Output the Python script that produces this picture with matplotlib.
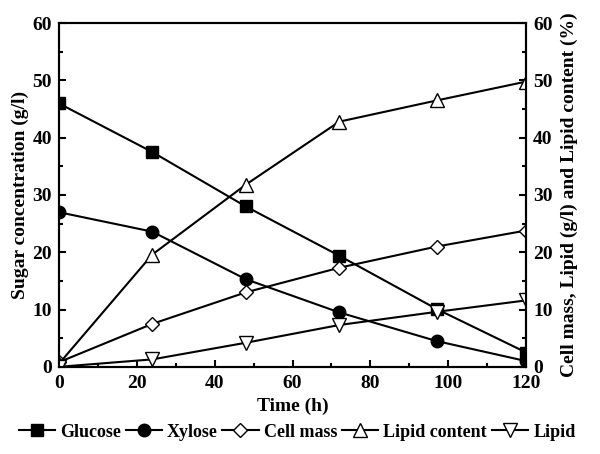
import matplotlib.pyplot as plt
from matplotlib.ticker import MultipleLocator

plt.rcParams['font.family'] = 'Liberation Serif'
plt.rcParams['font.weight'] = 'bold'

time_h = [0, 24, 48, 72, 97, 120]
glucose = [46, 37.5, 28, 19.4, 10.1, 2.5]
xylose = [27, 23.6, 15.3, 9.5, 4.5, 1.0]
cell_mass = [0.8, 7.5, 13, 17.3, 21, 23.8]
lipid_content = [0.5, 19.6, 31.8, 42.8, 46.5, 49.8]
lipid = [0, 1.3, 4.2, 7.3, 9.6, 11.6]

fig = plt.figure(figsize=(6, 4.54), dpi=100)
ax = fig.add_axes([0.098, 0.192, 0.779, 0.757])
ax2 = ax.twinx()

ms = 8
l1, = ax.plot(time_h, glucose, '-s', color='black', mfc='black', ms=ms, lw=1.5, label='Glucose')
l2, = ax.plot(time_h, xylose, '-o', color='black', mfc='black', ms=ms + 1, lw=1.5, label='Xylose')
l3, = ax2.plot(time_h, cell_mass, '-D', color='black', mfc='white', ms=ms - 1, lw=1.5, label='Cell mass')
l4, = ax2.plot(time_h, lipid_content, '-^', color='black', mfc='white', ms=ms + 2, lw=1.5, label='Lipid content')
l5, = ax2.plot(time_h, lipid, '-v', color='black', mfc='white', ms=ms + 2, lw=1.5, label='Lipid')

for a in (ax, ax2):
    a.set_xlim(0, 120)
    a.set_ylim(0, 60)
    a.yaxis.set_major_locator(MultipleLocator(10))
    a.yaxis.set_minor_locator(MultipleLocator(5))
    a.tick_params(which='both', direction='in', labelsize=14, width=1.5)
    a.tick_params(which='major', length=5)
    a.tick_params(which='minor', length=3)
    for s in a.spines.values():
        s.set_linewidth(1.5)
ax.xaxis.set_major_locator(MultipleLocator(20))
ax.xaxis.set_minor_locator(MultipleLocator(10))
ax.tick_params(axis='x', pad=6)
ax.tick_params(axis='y', pad=5)
ax2.tick_params(axis='y', pad=5)

ax.set_xlabel('Time (h)', fontsize=14, fontweight='bold', labelpad=4)
ax.set_ylabel('Sugar concentration (g/l)', fontsize=14, fontweight='bold', labelpad=2)
ax2.set_ylabel('Cell mass, Lipid (g/l) and Lipid content (%)', fontsize=14, fontweight='bold', labelpad=6)

fig.legend(handles=[l1, l2, l3, l4, l5], loc='center', bbox_to_anchor=(0.495, 0.048), ncol=5,
           frameon=False, fontsize=13, handlelength=2.0, handletextpad=0.3, columnspacing=0.25,
           borderpad=0.1)

fig.savefig('out.png', dpi=100)
